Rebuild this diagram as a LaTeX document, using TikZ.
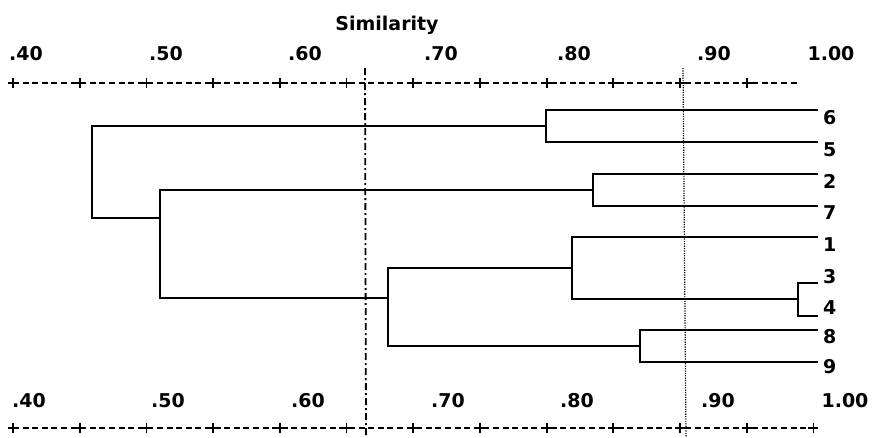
\documentclass[tikz,border=0pt]{standalone}
\usepackage{fontspec}
\setmainfont{DejaVu Sans}
\begin{document}
\begin{tikzpicture}[x=1pt,y=-1pt,
  dend/.style={line width=2.2pt},
  axisline/.style={line width=1.7pt, dash pattern=on 6pt off 3.6pt},
  tickplus/.style={line width=1.8pt},
  labfont/.style={font=\fontsize{19}{22}\selectfont\bfseries, inner sep=0pt},
  lab/.style={labfont, anchor=base},
  cutdashdot/.style={line width=1.8pt, dash pattern=on 7pt off 3pt on 2pt off 3pt},
  cutdotted/.style={line width=1.2pt, dash pattern=on 1.2pt off 1.2pt}]
\useasboundingbox (0,0) rectangle (873,437);

% title
\node[labfont] (title) at (387,25) {Similarity};

% top scale
\foreach \v/\x in {.40/26,.50/166,.60/305,.70/441,.80/574,.90/714,1.00/831}
  \node[lab] (tl\x) at (\x,60) {\v};
\foreach \k in {0,...,11} \coordinate (tp\k) at ({13+66.7*\k},83);
\coordinate (tend) at (797,83);
\draw[axisline] (tp0) -- (tend);
\foreach \k in {0,...,11}
  \draw[tickplus, shift={(tp\k)}] (-5,0) -- (5,0) (0,-5) -- (0,5);

% bottom scale
\foreach \v/\x in {.40/29,.50/168,.60/308,.70/448,.80/577,.90/718,1.00/845}
  \node[lab] (bl\x) at (\x,407) {\v};
\foreach \k in {0,...,12} \coordinate (bp\k) at ({13+66.7*\k},428);
\draw[axisline] (bp0) -- (bp12);
\foreach \k in {0,...,12}
  \draw[tickplus, shift={(bp\k)}] (-5,0) -- (5,0) (0,-5) -- (0,5);

% cut levels
\coordinate (cutAtop) at (365,68);
\coordinate (cutAbot) at (366,437);
\coordinate (cutBtop) at (683,68);
\coordinate (cutBbot) at (686,437);
\draw[cutdashdot] (cutAtop) -- (cutAbot);
\draw[cutdotted] (cutBtop) -- (cutBbot);

% leaf ends and labels
\foreach \n/\y/\ly in {6/110/124,5/142/156,2/174/188,7/206/219,1/237/251,3/283/283,4/316/314,8/330/343,9/362/373} {
  \coordinate (e\n) at (818,\y);
  \node[lab, anchor=base west] (t\n) at (823,\ly) {\n};
}

% merge points (bracket x, joining height)
\coordinate (root) at (92,172);
\coordinate (n65) at (546,126);
\coordinate (n27) at (593,190);
\coordinate (n34) at (798,299);
\coordinate (n134) at (572,268);
\coordinate (n89) at (640,346);
\coordinate (nA) at (388,298);
\coordinate (nB) at (160,218);

% pairs of leaves
\draw[dend] (e6) -- (e6 -| n65) -- (e5 -| n65) -- (e5);
\draw[dend] (e2) -- (e2 -| n27) -- (e7 -| n27) -- (e7);
\draw[dend] (e3) -- (e3 -| n34) -- (e4 -| n34) -- (e4);
\draw[dend] (e8) -- (e8 -| n89) -- (e9 -| n89) -- (e9);
\draw[dend] (e1) -- (e1 -| n134) -- (n34 -| n134) -- (n34);

% higher levels
\draw[dend] (n134) -- (n134 -| nA) -- (n89 -| nA) -- (n89);
\draw[dend] (n27) -- (n27 -| nB) -- (nA -| nB) -- (nA);
\draw[dend] (n65) -- (n65 -| root) -- (nB -| root) -- (nB);
\end{tikzpicture}
\end{document}
